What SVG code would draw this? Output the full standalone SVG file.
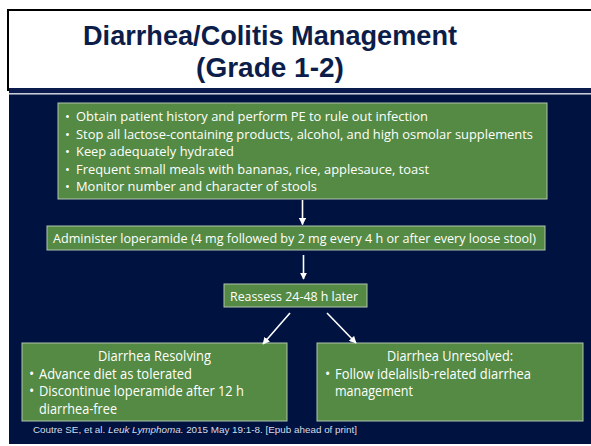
<svg xmlns="http://www.w3.org/2000/svg" width="591" height="446" viewBox="0 0 591 446">
  <style>
    .box { fill: #548a43; stroke: #b4c4b0; stroke-width: 1; }
    .t { font-family: "Open Sans", "Liberation Sans", sans-serif; fill: #ffffff; }
    .s13 { font-size: 13px; }
    .s14 { font-size: 14px; }
    .title { font-family: "Liberation Sans", Arial, sans-serif; font-weight: bold; font-size: 28px; fill: #0d1d4a; text-anchor: middle; }
    .cite { font-family: "Liberation Sans", Arial, sans-serif; font-size: 8.4px; fill: #d8dce6; }
    .conn { stroke: #ffffff; stroke-width: 1.6; fill: none; marker-end: url(#head); }
  </style>
  <defs>
    <marker id="head" viewBox="0 0 10 10" refX="9" refY="5" markerWidth="4.5" markerHeight="4.5" orient="auto">
      <path d="M0,0 L10,5 L0,10 z" fill="#ffffff"/>
    </marker>
  </defs>

  <!-- page -->
  <rect x="0" y="0" width="591" height="446" fill="#ffffff"/>

  <!-- header band -->
  <g id="header">
    <rect x="8" y="10" width="590" height="80" fill="#ffffff" stroke="#000000" stroke-width="2"/>
    <rect x="9" y="88" width="582" height="5" fill="#0b1a4c"/>
    <rect x="9" y="93" width="582" height="1.5" fill="#c8ccd8"/>
    <text class="title" x="270" y="45" textLength="374" lengthAdjust="spacingAndGlyphs">Diarrhea/Colitis Management</text>
    <text class="title" x="270" y="77">(Grade 1-2)</text>
  </g>

  <!-- body background -->
  <rect x="9" y="94.5" width="582" height="349.5" fill="#001240"/>

  <!-- initial measures -->
  <g id="initial">
    <rect class="box" x="58" y="103" width="489" height="96"/>
    <g class="t s13">
      <text x="65" y="121">•</text>
      <text x="76" y="121" textLength="352" lengthAdjust="spacingAndGlyphs">Obtain patient history and perform PE to rule out infection</text>
      <text x="65" y="138.5">•</text>
      <text x="76" y="138.5" textLength="457" lengthAdjust="spacingAndGlyphs">Stop all lactose-containing products, alcohol, and high osmolar supplements</text>
      <text x="65" y="156">•</text>
      <text x="76" y="156" textLength="158" lengthAdjust="spacingAndGlyphs">Keep adequately hydrated</text>
      <text x="65" y="173.5">•</text>
      <text x="76" y="173.5" textLength="353" lengthAdjust="spacingAndGlyphs">Frequent small meals with bananas, rice, applesauce, toast</text>
      <text x="65" y="191">•</text>
      <text x="76" y="191" textLength="241" lengthAdjust="spacingAndGlyphs">Monitor number and character of stools</text>
    </g>
  </g>

  <!-- loperamide -->
  <g id="loperamide">
    <rect class="box" x="47" y="226" width="498" height="24"/>
    <text class="t s13" x="53" y="243" textLength="483" lengthAdjust="spacingAndGlyphs">Administer loperamide (4 mg followed by 2 mg every 4 h or after every loose stool)</text>
  </g>

  <!-- reassess -->
  <g id="reassess">
    <rect class="box" x="224" y="284" width="143" height="23"/>
    <text class="t s13" x="230" y="300.5" textLength="128" lengthAdjust="spacingAndGlyphs">Reassess 24-48 h later</text>
  </g>

  <!-- resolving -->
  <g id="resolving">
    <rect class="box" x="22" y="343" width="265" height="78"/>
    <g class="t s14">
      <text x="154.5" y="361" text-anchor="middle" textLength="113" lengthAdjust="spacingAndGlyphs">Diarrhea Resolving</text>
      <text x="29" y="378.5">•</text>
      <text x="39" y="378.5" textLength="153" lengthAdjust="spacingAndGlyphs">Advance diet as tolerated</text>
      <text x="29" y="396">•</text>
      <text x="39" y="396" textLength="205" lengthAdjust="spacingAndGlyphs">Discontinue loperamide after 12 h</text>
      <text x="39" y="413.5" textLength="78" lengthAdjust="spacingAndGlyphs">diarrhea-free</text>
    </g>
  </g>

  <!-- unresolved -->
  <g id="unresolved">
    <rect class="box" x="317" y="343" width="266" height="78"/>
    <g class="t s14">
      <text x="450" y="361" text-anchor="middle" textLength="126" lengthAdjust="spacingAndGlyphs">Diarrhea Unresolved:</text>
      <text x="325" y="378.5">•</text>
      <text x="335" y="378.5" textLength="196" lengthAdjust="spacingAndGlyphs">Follow idelalisib-related diarrhea</text>
      <text x="335" y="396" textLength="78" lengthAdjust="spacingAndGlyphs">management</text>
    </g>
  </g>

  <!-- connectors -->
  <g id="connectors">
    <line class="conn" x1="302.5" y1="200" x2="302.5" y2="224.5"/>
    <line class="conn" x1="303.5" y1="255" x2="303.5" y2="279"/>
    <line class="conn" x1="290" y1="313" x2="263" y2="344"/>
    <line class="conn" x1="327" y1="313" x2="356" y2="343"/>
  </g>

  <!-- reference -->
  <text class="cite" x="33" y="433" textLength="324" lengthAdjust="spacingAndGlyphs">Coutre SE, et al. <tspan font-style="italic">Leuk Lymphoma.</tspan> 2015 May 19:1-8. [Epub ahead of print]</text>
</svg>
